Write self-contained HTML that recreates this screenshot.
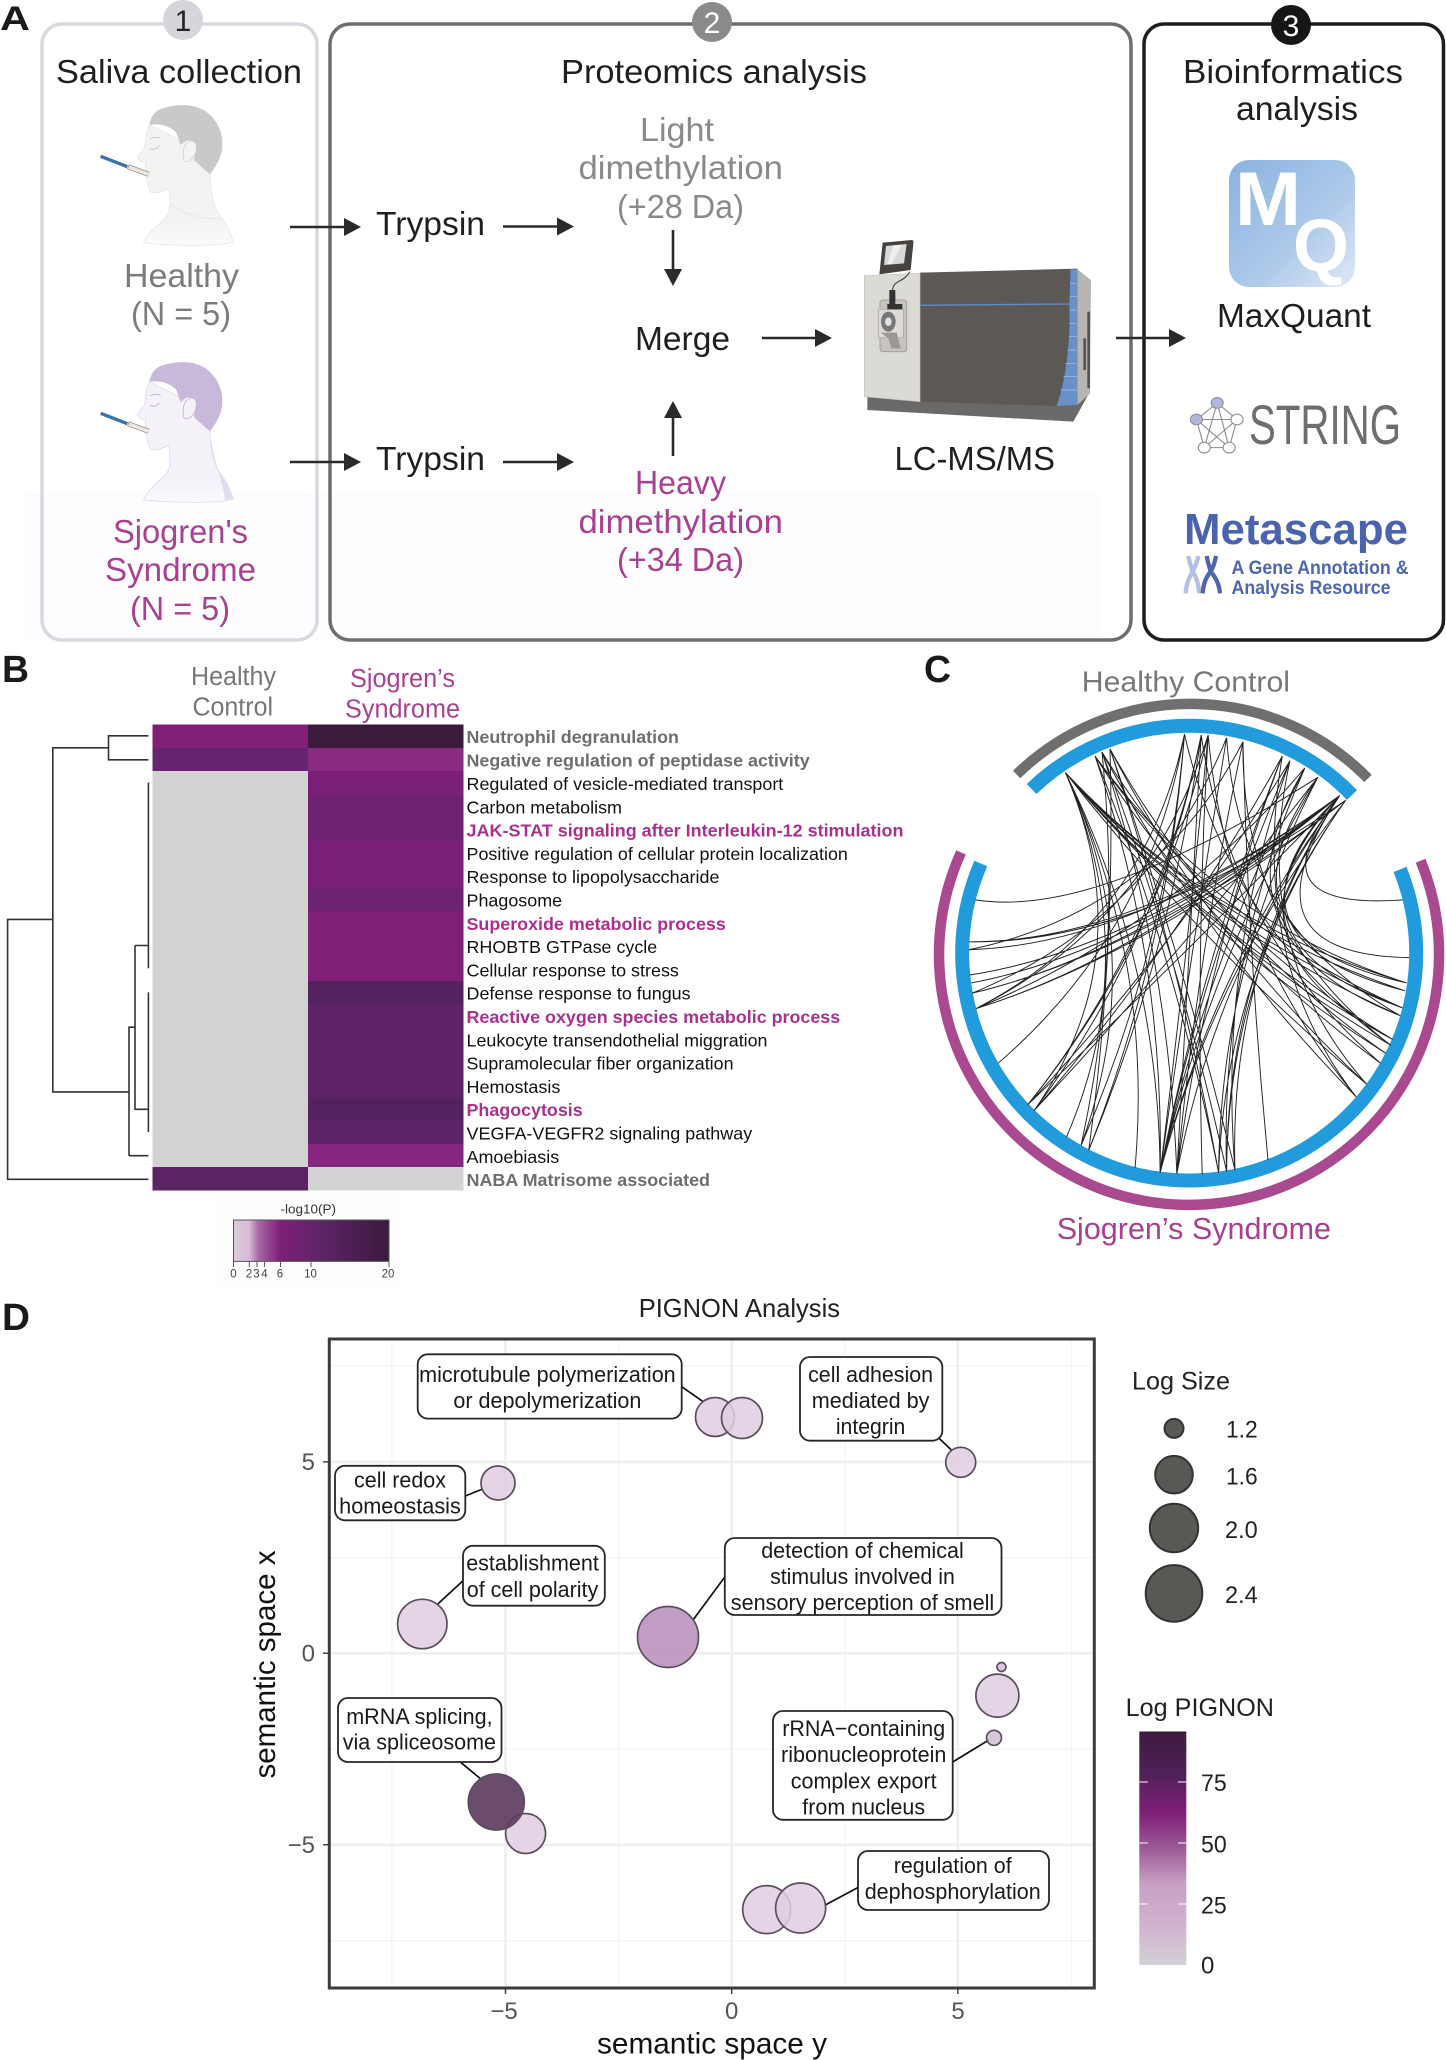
<!DOCTYPE html>
<html><head><meta charset="utf-8"><title>Figure</title>
<style>
html,body{margin:0;padding:0;background:#fff}
svg{display:block}
text{font-family:"Liberation Sans",sans-serif}
</style></head><body>
<svg xmlns="http://www.w3.org/2000/svg" width="1446" height="2060" viewBox="0 0 1446 2060">
<defs>
<linearGradient id="mq" x1="0" y1="0" x2="1" y2="1"><stop offset="0" stop-color="#8ab2e0"/><stop offset=".6" stop-color="#aecaea"/><stop offset="1" stop-color="#e0e9f6"/></linearGradient>
<linearGradient id="cb" x1="0" y1="0" x2="1" y2="0"><stop offset="0" stop-color="#dccbdd"/><stop offset=".1" stop-color="#d6bcd6"/><stop offset=".16" stop-color="#a868a4"/><stop offset=".3" stop-color="#7f1f78"/><stop offset=".55" stop-color="#5e2468"/><stop offset="1" stop-color="#3a1a3d"/></linearGradient>
<linearGradient id="lp" x1="0" y1="0" x2="0" y2="1"><stop offset="0" stop-color="#3e1a3f"/><stop offset=".18" stop-color="#4f2158"/><stop offset=".35" stop-color="#7f1f78"/><stop offset=".5" stop-color="#9a5a96"/><stop offset=".65" stop-color="#c79fc3"/><stop offset=".8" stop-color="#d0aece"/><stop offset="1" stop-color="#d3d0d6"/></linearGradient>
<linearGradient id="b1" x1="0" y1="0" x2="0" y2="1"><stop offset=".8" stop-color="#f3f3f2"/><stop offset="1" stop-color="#fbfbfb"/></linearGradient>
<linearGradient id="b2" x1="0" y1="0" x2="0" y2="1"><stop offset=".8" stop-color="#f4f1f9"/><stop offset="1" stop-color="#fbfafd"/></linearGradient>
</defs>

<!-- PANEL A -->
<rect x="23" y="493" width="1076" height="147" fill="#fdfcfe"/>
<rect x="42" y="24" width="275" height="616" rx="20" fill="none" stroke="#d6d9df" stroke-width="3.5"/>
<rect x="330" y="24" width="801" height="616" rx="20" fill="none" stroke="#6e6e6e" stroke-width="3.5"/>
<rect x="1144" y="24" width="299.5" height="616" rx="20" fill="none" stroke="#1d1d1d" stroke-width="3.5"/>
<circle cx="183" cy="20" r="20" fill="#d4d6dc"/><text x="183" y="31" font-size="30" text-anchor="middle" fill="#222">1</text>
<circle cx="712" cy="22" r="20" fill="#8a8a8a"/><text x="712" y="33" font-size="30" text-anchor="middle" fill="#fff">2</text>
<circle cx="1291" cy="25" r="20" fill="#161616"/><text x="1291" y="36" font-size="30" text-anchor="middle" fill="#fff">3</text>

<text x="0" y="30" font-size="34" font-weight="bold" fill="#1a1a1a" textLength="30" lengthAdjust="spacingAndGlyphs">A</text>
<text x="2" y="682" font-size="38" font-weight="bold" fill="#1a1a1a" textLength="27" lengthAdjust="spacingAndGlyphs">B</text>
<text x="924" y="682" font-size="38" font-weight="bold" fill="#1a1a1a" textLength="27" lengthAdjust="spacingAndGlyphs">C</text>
<text x="2" y="1330" font-size="38" font-weight="bold" fill="#1a1a1a" textLength="28" lengthAdjust="spacingAndGlyphs">D</text>

<g font-size="33" fill="#1f1f1f">
<text x="56" y="83" textLength="246" lengthAdjust="spacingAndGlyphs">Saliva collection</text>
<text x="561" y="83" textLength="306" lengthAdjust="spacingAndGlyphs">Proteomics analysis</text>
<text x="1183" y="83" textLength="220" lengthAdjust="spacingAndGlyphs">Bioinformatics</text>
<text x="1236" y="120" textLength="122" lengthAdjust="spacingAndGlyphs">analysis</text>
<text x="376" y="235" textLength="109" lengthAdjust="spacingAndGlyphs">Trypsin</text>
<text x="376" y="470" textLength="109" lengthAdjust="spacingAndGlyphs">Trypsin</text>
<text x="635" y="350" textLength="95" lengthAdjust="spacingAndGlyphs">Merge</text>
<text x="894.5" y="470" textLength="160.5" lengthAdjust="spacingAndGlyphs">LC-MS/MS</text>
<text x="1217" y="327" textLength="154" lengthAdjust="spacingAndGlyphs">MaxQuant</text>
</g>
<g font-size="33" fill="#8a8a8a">
<text x="640" y="141" textLength="74" lengthAdjust="spacingAndGlyphs">Light</text>
<text x="578.5" y="179" textLength="204.5" lengthAdjust="spacingAndGlyphs">dimethylation</text>
<text x="617" y="218" textLength="127" lengthAdjust="spacingAndGlyphs">(+28 Da)</text>
<text x="124" y="287" textLength="115" lengthAdjust="spacingAndGlyphs" fill="#7c7c7c">Healthy</text>
<text x="131" y="325" textLength="100" lengthAdjust="spacingAndGlyphs" fill="#7c7c7c">(N = 5)</text>
</g>
<g font-size="33" fill="#a8418f">
<text x="635" y="494" textLength="91" lengthAdjust="spacingAndGlyphs">Heavy</text>
<text x="578.5" y="533" textLength="204.5" lengthAdjust="spacingAndGlyphs">dimethylation</text>
<text x="617" y="571" textLength="127" lengthAdjust="spacingAndGlyphs">(+34 Da)</text>
<text x="113" y="543" textLength="135" lengthAdjust="spacingAndGlyphs">Sjogren's</text>
<text x="105" y="581" textLength="151" lengthAdjust="spacingAndGlyphs">Syndrome</text>
<text x="130" y="620" textLength="100" lengthAdjust="spacingAndGlyphs">(N = 5)</text>
</g>

<!-- arrows -->
<g stroke="#2a2a2a" stroke-width="2.6" fill="#2a2a2a">
<line x1="290" y1="227" x2="346" y2="227"/><polygon stroke="none" points="344,218 361,227 344,236"/>
<line x1="503" y1="226.5" x2="559" y2="226.5"/><polygon stroke="none" points="557,217.5 574,226.5 557,235.5"/>
<line x1="290" y1="462" x2="346" y2="462"/><polygon stroke="none" points="344,453 361,462 344,471"/>
<line x1="503" y1="462" x2="559" y2="462"/><polygon stroke="none" points="557,453 574,462 557,471"/>
<line x1="762" y1="338" x2="817" y2="338"/><polygon stroke="none" points="815,329 832,338 815,347"/>
<line x1="1116" y1="338" x2="1171" y2="338"/><polygon stroke="none" points="1169,329 1186,338 1169,347"/>
<line x1="673" y1="230" x2="673" y2="272"/><polygon stroke="none" points="664,269 682,269 673,286"/>
<line x1="673" y1="456" x2="673" y2="414"/><polygon stroke="none" points="664,418 682,418 673,401"/>
</g>

<!-- person 1 -->
<g transform="translate(90,95) scale(.33333)">
<path d="M178 90C170 110 165 130 165 155C158 170 146 178 143 187C146 198 158 202 168 205C164 218 165 228 172 240C168 250 170 262 175 272C176 282 178 290 184 293C200 296 222 288 236 280C240 300 242 320 238 345C234 365 215 380 198 395C182 410 170 425 160 442C180 450 390 458 430 440C420 410 405 380 385 355C372 335 362 300 360 238L300 150Z" fill="url(#b1)" stroke="#e2e2e2" stroke-width="2"/>
<path d="M178 90C184 62 195 45 225 38C270 25 330 25 365 65C392 95 402 130 395 170C388 200 372 222 360 238C345 225 330 212 312 195L320 150C310 135 290 130 272 150C264 130 262 118 258 112C235 90 205 85 178 90Z" fill="#c9c9c8"/>
<path d="M282 198C274 165 285 140 305 137C325 140 322 170 308 190C300 200 292 202 282 198Z" fill="#f3f3f2" stroke="#c8c8c8" stroke-width="2"/>
<path d="M180 160Q196 168 208 152M180 132Q196 124 212 130" stroke="#b5b5b5" stroke-width="2" fill="none"/>
<path d="M240 325C285 360 340 375 395 370" stroke="#e2e2e2" stroke-width="2" fill="none"/>
<line x1="32" y1="184" x2="112" y2="215" stroke="#3c72a6" stroke-width="10"/>
<line x1="114" y1="215" x2="176" y2="238" stroke="#8a837d" stroke-width="15"/>
<line x1="116" y1="216" x2="176" y2="238" stroke="#ece6df" stroke-width="11"/>
</g>
<!-- person 2 -->
<g transform="translate(90,352) scale(.33333)">
<path d="M178 90C170 110 165 130 165 155C158 170 146 178 143 187C146 198 158 202 168 205C164 218 165 228 172 240C168 250 170 262 175 272C176 282 178 290 184 293C200 296 222 288 236 280C240 300 242 320 238 345C234 365 215 380 198 395C182 410 170 425 160 442C180 450 390 458 430 440C420 410 405 380 385 355C372 335 362 300 360 238L300 150Z" fill="url(#b2)" stroke="#dcd2ea" stroke-width="2"/>
<path d="M360 238C362 300 372 335 385 355C405 380 420 410 430 440L405 445C400 390 370 330 360 238Z" fill="#e3dcef"/>
<path d="M178 90C184 62 195 45 225 38C270 25 330 25 365 65C392 95 402 130 395 170C388 200 372 222 360 238C345 225 330 212 312 195L320 150C310 135 290 130 272 150C264 130 262 118 258 112C235 90 205 85 178 90Z" fill="#c8b8d9"/>
<path d="M282 198C274 165 285 140 305 137C325 140 322 170 308 190C300 200 292 202 282 198Z" fill="#f4f1f9" stroke="#b7a8c8" stroke-width="2"/>
<path d="M180 160Q196 168 208 152M180 132Q196 124 212 130" stroke="#a898bb" stroke-width="2" fill="none"/>
<line x1="32" y1="184" x2="112" y2="215" stroke="#3c72a6" stroke-width="10"/>
<line x1="114" y1="215" x2="176" y2="238" stroke="#8a837d" stroke-width="15"/>
<line x1="116" y1="216" x2="176" y2="238" stroke="#ece6df" stroke-width="11"/>
</g>

<!-- LC-MS -->
<g transform="translate(860,230) scale(.33333)">
<polygon points="22,495 690,485 640,575 22,540" fill="#6a6968"/>
<polygon points="650,116 693,150 690,490 652,525" fill="#b8b5b0"/>
<rect x="682" y="245" width="8" height="230" fill="#55524f"/>
<rect x="670" y="325" width="8" height="95" fill="#55524f"/>
<polygon points="180,128 652,116 652,525 590,528 180,515" fill="#5c5856"/>
<path d="M632 118L652 118L652 525L590 528C620 440 632 330 628 222Z" fill="#6a90c8"/>
<path d="M630 160H652M630 200H652M630 240H652M628 280H652M626 320H652M622 360H652M616 400H652M610 440H652M602 480H652" stroke="#a9c2e4" stroke-width="2"/>
<polygon points="13,137 180,130 180,515 13,500" fill="#dcdad5" stroke="#c5c2bd" stroke-width="2"/>
<line x1="180" y1="226" x2="628" y2="222" stroke="#5f8ecb" stroke-width="4"/>
<path d="M68 38L155 30Q162 30 160 40L152 120L58 133Z" fill="#45423f"/>
<polygon points="78,48 140,42 132,100 72,105" fill="#d8d8d8"/>
<polygon points="100,46 125,44 95,102 82,103" fill="#efefef"/>
<path d="M150 125C130 160 95 150 98 185" stroke="#333" stroke-width="3" fill="none"/>
<rect x="60" y="210" width="80" height="155" rx="8" fill="#c7c4bf" stroke="#a5a29d" stroke-width="3"/>
<rect x="55" y="238" width="75" height="85" rx="4" fill="#dedbd6" stroke="#a5a29d" stroke-width="2"/>
<rect x="88" y="180" width="18" height="45" fill="#333"/>
<rect x="82" y="222" width="45" height="16" fill="#333"/>
<ellipse cx="85" cy="275" rx="22" ry="30" fill="#777"/>
<ellipse cx="85" cy="275" rx="10" ry="13" fill="#e0e0e0"/>
<polygon points="62,308 110,308 122,355 95,355 85,325" fill="#9b9893"/>
</g>

<!-- string icon -->
<g transform="translate(723,0) scale(.461,.4145)">
<g stroke="#8f8f8f" stroke-width="2.5" fill="none">
<polygon points="1072,972 1115,1012 1098,1080 1044,1080 1027,1012"/>
<polygon points="1072,972 1098,1080 1027,1012 1115,1012 1044,1080"/>
</g>
<g stroke="#8f8f8f" stroke-width="2.5">
<circle cx="1072" cy="972" r="13" fill="#b0b7de"/>
<circle cx="1027" cy="1012" r="13" fill="#b0b7de"/>
<circle cx="1115" cy="1012" r="13" fill="#fff"/>
<circle cx="1044" cy="1080" r="13" fill="#fff"/>
<circle cx="1098" cy="1080" r="13" fill="#fff"/>
</g>
</g>
<!-- dna icon -->
<g transform="translate(1170,510) scale(.33333)" fill="none" stroke-width="13">
<path d="M55 138C60 165 65 175 68 185C55 205 48 225 47 250M85 138C80 165 72 175 68 185C82 205 85 225 88 250" stroke="#b2bfe6"/>
<path d="M110 138C115 165 120 175 122 185C105 205 100 225 98 250M138 138C133 165 128 175 122 185C140 205 148 225 150 250" stroke="#4d66ae"/>
</g>
<rect x="1229" y="160" width="126" height="127" rx="20" fill="url(#mq)"/>
<text x="1235" y="225" font-size="76" font-weight="bold" fill="#fff" textLength="66" lengthAdjust="spacingAndGlyphs">M</text>
<text x="1293" y="271" font-size="74" font-weight="bold" fill="#fff" textLength="56" lengthAdjust="spacingAndGlyphs">Q</text>
<text x="1249" y="444" font-size="56" fill="#6e6e6e" textLength="152" lengthAdjust="spacingAndGlyphs">STRING</text>
<text x="1184" y="544" font-size="44" font-weight="bold" fill="#4a63ae" textLength="224" lengthAdjust="spacingAndGlyphs">Metascape</text>
<text x="1231.5" y="574" font-size="19" font-weight="bold" fill="#4d66ae" textLength="177" lengthAdjust="spacingAndGlyphs">A Gene Annotation &amp;</text>
<text x="1231.5" y="594" font-size="19" font-weight="bold" fill="#4d66ae" textLength="159" lengthAdjust="spacingAndGlyphs">Analysis Resource</text>

<!-- PANEL B -->
<text x="191" y="685" font-size="25.5" fill="#777" textLength="85" lengthAdjust="spacingAndGlyphs">Healthy</text>
<text x="192.5" y="715.5" font-size="25.5" fill="#777" textLength="80.5" lengthAdjust="spacingAndGlyphs">Control</text>
<text x="350" y="687" font-size="25.5" fill="#a8418f" textLength="105" lengthAdjust="spacingAndGlyphs">Sjogren’s</text>
<text x="345" y="717.5" font-size="25.5" fill="#a8418f" textLength="115" lengthAdjust="spacingAndGlyphs">Syndrome</text>

<g shape-rendering="crispEdges">
<rect x="152.5" y="724.6" width="155.5" height="23.4" fill="#7f1f78"/>
<rect x="152.5" y="748" width="155.5" height="23.3" fill="#66246e"/>
<rect x="152.5" y="771.2" width="155.5" height="396" fill="#d2d2d2"/>
<rect x="152.5" y="1167.2" width="155.5" height="23.3" fill="#5c2364"/>
<rect x="308" y="724.6" width="155.5" height="23.4" fill="#3a1a3d"/>
<rect x="308" y="748" width="155.5" height="23.4" fill="#8a2a80"/>
<rect x="308" y="771.2" width="155.5" height="23.4" fill="#7b1f78"/>
<rect x="308" y="794.5" width="155.5" height="23.4" fill="#702272"/>
<rect x="308" y="817.8" width="155.5" height="23.4" fill="#702272"/>
<rect x="308" y="841.1" width="155.5" height="46.7" fill="#7c1f78"/>
<rect x="308" y="887.7" width="155.5" height="23.4" fill="#6d2274"/>
<rect x="308" y="911" width="155.5" height="70" fill="#7f1f78"/>
<rect x="308" y="980.9" width="155.5" height="23.4" fill="#552260"/>
<rect x="308" y="1004.2" width="155.5" height="93.3" fill="#5e2366"/>
<rect x="308" y="1097.4" width="155.5" height="23.4" fill="#552260"/>
<rect x="308" y="1120.7" width="155.5" height="23.4" fill="#5c2366"/>
<rect x="308" y="1144" width="155.5" height="23.4" fill="#872680"/>
<rect x="308" y="1167.2" width="155.5" height="23.3" fill="#d3d3d3"/>
</g>
<g font-size="17.5">
<text x="466.5" y="743.2" font-weight="bold" fill="#6e6e6e" textLength="212.4" lengthAdjust="spacingAndGlyphs">Neutrophil degranulation</text>
<text x="466.5" y="766.5" font-weight="bold" fill="#6e6e6e" textLength="343.2" lengthAdjust="spacingAndGlyphs">Negative regulation of peptidase activity</text>
<text x="466.5" y="790" fill="#111" textLength="316.8" lengthAdjust="spacingAndGlyphs">Regulated of vesicle-mediated transport</text>
<text x="466.5" y="813.3" fill="#111" textLength="155.5" lengthAdjust="spacingAndGlyphs">Carbon metabolism</text>
<text x="466.5" y="836.6" font-weight="bold" fill="#a8318f" textLength="437" lengthAdjust="spacingAndGlyphs">JAK-STAT signaling after Interleukin-12 stimulation</text>
<text x="466.5" y="859.9" fill="#111" textLength="381.4" lengthAdjust="spacingAndGlyphs">Positive regulation of cellular protein localization</text>
<text x="466.5" y="883.2" fill="#111" textLength="252.9" lengthAdjust="spacingAndGlyphs">Response to lipopolysaccharide</text>
<text x="466.5" y="906.5" fill="#111" textLength="95.6" lengthAdjust="spacingAndGlyphs">Phagosome</text>
<text x="466.5" y="929.8" font-weight="bold" fill="#a8318f" textLength="259.3" lengthAdjust="spacingAndGlyphs">Superoxide metabolic process</text>
<text x="466.5" y="953.1" fill="#111" textLength="190.7" lengthAdjust="spacingAndGlyphs">RHOBTB GTPase cycle</text>
<text x="466.5" y="976.4" fill="#111" textLength="212.4" lengthAdjust="spacingAndGlyphs">Cellular response to stress</text>
<text x="466.5" y="999.7" fill="#111" textLength="224.1" lengthAdjust="spacingAndGlyphs">Defense response to fungus</text>
<text x="466.5" y="1023" font-weight="bold" fill="#a8318f" textLength="373.7" lengthAdjust="spacingAndGlyphs">Reactive oxygen species metabolic process</text>
<text x="466.5" y="1046.3" fill="#111" textLength="301" lengthAdjust="spacingAndGlyphs">Leukocyte transendothelial miggration</text>
<text x="466.5" y="1069.6" fill="#111" textLength="267" lengthAdjust="spacingAndGlyphs">Supramolecular fiber organization</text>
<text x="466.5" y="1092.9" fill="#111" textLength="93.9" lengthAdjust="spacingAndGlyphs">Hemostasis</text>
<text x="466.5" y="1116.2" font-weight="bold" fill="#a8318f" textLength="116.2" lengthAdjust="spacingAndGlyphs">Phagocytosis</text>
<text x="466.5" y="1139.5" fill="#111" textLength="285.7" lengthAdjust="spacingAndGlyphs">VEGFA-VEGFR2 signaling pathway</text>
<text x="466.5" y="1162.8" fill="#111" textLength="92.7" lengthAdjust="spacingAndGlyphs">Amoebiasis</text>
<text x="466.5" y="1186.1" font-weight="bold" fill="#6e6e6e" textLength="243.5" lengthAdjust="spacingAndGlyphs">NABA Matrisome associated</text>
</g>
<g fill="none" stroke="#333" stroke-width="1.6">
<path d="M148.4 735.8H108.5V759.8H148.4M108.5 747.8H52.8V1091.9H129M52.8 919.4H7.6V1179.3H148.4M129 1155.7H148.4M129 1155.7V1027.2H135M135 945.5V1109.3H148.4M135 945.5H148.4M148.4 782.6V968.3M148.4 992.4V1132"/>
</g>
<rect x="218" y="1193" width="184" height="95" fill="#fdfdfd"/>
<text x="280.5" y="1213.7" font-size="12.5" fill="#333" textLength="55.5" lengthAdjust="spacingAndGlyphs">-log10(P)</text>
<rect x="233.5" y="1220" width="155.5" height="41.4" fill="url(#cb)" stroke="#555" stroke-width="1"/>
<path d="M233.5 1261v6M249.3 1261v6M257 1261v6M264.6 1261v6M280.5 1261v6M311 1261v6M389 1261v6" stroke="#555" stroke-width="1"/>
<g font-size="11.5" fill="#444" text-anchor="middle">
<text x="233.5" y="1277.5">0</text><text x="249" y="1277.5">2</text><text x="256.5" y="1277.5">3</text><text x="264.5" y="1277.5">4</text><text x="280" y="1277.5">6</text><text x="310.5" y="1277.5">10</text><text x="388" y="1277.5">20</text>
</g>

<!-- PANEL C -->
<text x="1081.8" y="691.5" font-size="29" fill="#777" textLength="208.2" lengthAdjust="spacingAndGlyphs">Healthy Control</text>
<text x="1056.7" y="1239" font-size="31" fill="#a8418f" textLength="274.3" lengthAdjust="spacingAndGlyphs">Sjogren’s Syndrome</text>
<path d="M1016.6 774.5A249 249 0 0 1 1368 778.5" fill="none" stroke="#6f6f6f" stroke-width="10.5"/>
<path d="M1031.6 789A227 227 0 0 1 1352 795" fill="none" stroke="#229bdc" stroke-width="14"/>
<path d="M961 852.4A250 250 0 1 0 1420.6 860.7" fill="none" stroke="#a94a91" stroke-width="10.5"/>
<path d="M980.8 863.5A227 227 0 1 0 1400 869.4" fill="none" stroke="#229bdc" stroke-width="14"/>
<g transform="translate(900,650) scale(.3482,.3954)">
<path fill="none" stroke="#222" stroke-width=".95" vector-effect="non-scaling-stroke" d="
M475 310Q883 696 1450 862M475 310Q884 692 1455 842M475 310Q882 705 1443 905M475 310Q881 709 1437 925M475 310Q876 721 1415 985M475 310Q875 724 1410 1000M475 310Q872 728 1395 1020M475 310Q861 743 1340 1098M475 310Q704 770 478 1232M475 310Q720 770 520 1253M475 310Q700 770 385 1165M475 310Q728 786 675 1310M475 310Q743 788 747 1322
M560 268Q901 684 1455 842M560 268Q899 696 1443 905M560 268Q886 725 1380 1045M560 268Q760 780 747 1322M560 268Q793 780 915 1322
M580 258Q897 711 1415 985M580 258Q876 739 1310 1130M580 258Q773 779 795 1325M580 258Q802 777 938 1319M580 258Q640 770 520 1253
M603 250Q898 716 1395 1020M603 250Q887 732 1340 1098M603 250Q811 775 962 1315M603 250Q802 776 915 1322M603 250Q620 770 542 1265
M817 213Q705 686 218 907M817 213Q718 713 282 1045M817 213Q766 755 520 1253M817 213Q770 758 542 1265M817 213Q944 704 1410 1000
M865 215Q744 735 367 1150M865 215Q748 738 385 1165M865 215Q779 758 542 1265M865 215Q830 770 795 1325M865 215Q947 714 1380 1045
M885 215Q719 686 218 907M885 215Q748 735 367 1150M885 215Q849 770 868 1326M885 215Q825 769 747 1322M885 215Q937 731 1310 1130
M938 222Q727 680 207 868M938 222Q835 771 747 1322M938 222Q973 692 1437 925
M985 232Q735 660 198 758M985 232Q854 773 795 1325M985 232Q977 709 1410 1000M985 232Q1000 770 1057 1290
M1098 268Q867 780 747 1322M1098 268Q876 781 795 1325M1098 268Q795 749 385 1165M1098 268Q1000 780 1310 1130
M1120 280Q871 782 747 1322M1120 280Q914 781 962 1315M1120 280Q795 748 367 1150M1120 280Q1000 760 1340 1098
M1163 298Q880 786 747 1322M1163 298Q918 785 938 1319M1163 298Q774 703 218 907M1163 298Q870 730 1437 925
M1200 322Q888 791 747 1322M1200 322Q815 759 385 1165M1200 322Q921 791 915 1322M1200 322Q560 680 217 632M1200 322Q870 727 1455 842
M1263 368Q680 740 198 738M1263 368Q680 745 198 758M1263 368Q690 755 200 822M1263 368Q690 760 205 842M1263 368Q700 765 207 868M1263 368Q700 775 218 907M1263 368Q900 800 747 1322M1263 368Q938 799 938 1319M1263 368Q943 799 962 1315M1263 368Q909 800 795 1325M1263 368Q1000 660 1443 632M1263 368Q960 770 1462 778M1263 368Q824 766 367 1150M1263 368Q870 727 1450 862M1263 368Q870 730 1443 905M1263 368Q873 735 1415 985
M1280 380Q680 745 198 738M1280 380Q700 775 218 907M1280 380Q700 765 207 868M1280 380Q941 802 938 1319M1280 380Q937 802 915 1322M1280 380Q904 802 747 1322"/>
</g>

<!-- PANEL D -->
<text x="638.7" y="1317" font-size="26" fill="#222" textLength="201.3" lengthAdjust="spacingAndGlyphs">PIGNON Analysis</text>
<g stroke="#f3f3f3" stroke-width="1.3">
<path d="M391.9 1339V1988M618.6 1339V1988M844.8 1339V1988M1071.5 1339V1988M329 1366H1094M329 1557.6H1094M329 1749H1094M329 1940.6H1094"/>
</g>
<g stroke="#efefef" stroke-width="2.6">
<path d="M505.5 1339V1988M731.7 1339V1988M957.8 1339V1988M329 1461.9H1094M329 1653.3H1094M329 1844.8H1094"/>
</g>
<rect x="329.3" y="1339" width="765" height="649" fill="none" stroke="#3f3b3a" stroke-width="3"/>
<path d="M505.5 1989V1994M731.7 1989V1994M957.8 1989V1994M323 1461.9H328M323 1653.3H328M323 1844.8H328" stroke="#444" stroke-width="1.5"/>
<g font-size="24" fill="#555">
<text x="315" y="1470" text-anchor="end">5</text>
<text x="315" y="1661.5" text-anchor="end">0</text>
<text x="315" y="1853" text-anchor="end">−5</text>
<text x="504" y="2019" text-anchor="middle">−5</text>
<text x="731.7" y="2019" text-anchor="middle">0</text>
<text x="958" y="2019" text-anchor="middle">5</text>
</g>
<text x="597" y="2053.5" font-size="30" fill="#111" textLength="230" lengthAdjust="spacingAndGlyphs">semantic space y</text>
<text transform="translate(275,1778.5) rotate(-90)" x="0" y="0" font-size="30" fill="#111" textLength="228" lengthAdjust="spacingAndGlyphs">semantic space x</text>

<!-- connectors -->
<g stroke="#111" stroke-width="1.7">
<line x1="681.7" y1="1386.7" x2="703.6" y2="1402"/>
<line x1="937" y1="1436.3" x2="952" y2="1450.6"/>
<line x1="465.3" y1="1496" x2="482.6" y2="1489"/>
<line x1="463" y1="1580.7" x2="437.8" y2="1604"/>
<line x1="724.8" y1="1577" x2="693" y2="1620"/>
<line x1="460.7" y1="1762.3" x2="481.4" y2="1779.5"/>
<line x1="952.7" y1="1762" x2="988.8" y2="1740"/>
<line x1="858" y1="1887.5" x2="825.8" y2="1904.7"/>
</g>
<!-- bubbles -->
<g stroke="#5a4e5c" stroke-width="1.7" fill="#dfcde1" fill-opacity=".85">
<circle cx="715" cy="1417" r="19.5"/>
<circle cx="742" cy="1418" r="20.5"/>
<circle cx="960.7" cy="1462.3" r="15"/>
<circle cx="498" cy="1483" r="17"/>
<circle cx="422.3" cy="1624" r="24.7"/>
<circle cx="668" cy="1637" r="30.5" fill="#b68cba"/>
<circle cx="525.6" cy="1833.5" r="20"/>
<circle cx="496.3" cy="1802" r="28" fill="#5e3d60" fill-opacity=".92"/>
<circle cx="1001.5" cy="1667" r="4.5" fill="#d3bcd6"/>
<circle cx="997.4" cy="1695.6" r="21.5"/>
<circle cx="994" cy="1737.8" r="7.5" fill="#d3bcd6"/>
<circle cx="766.7" cy="1909.6" r="24"/>
<circle cx="800.6" cy="1908" r="25"/>
</g>
<!-- label boxes -->
<g fill="#fff" stroke="#2a2526" stroke-width="1.8">
<rect x="417.7" y="1354.3" width="264" height="64.3" rx="10"/>
<rect x="800" y="1357" width="142.3" height="83.7" rx="10"/>
<rect x="335" y="1465.8" width="130.3" height="54.5" rx="10"/>
<rect x="463" y="1545.8" width="141.8" height="59.9" rx="10"/>
<rect x="724.8" y="1538" width="276.7" height="77" rx="10"/>
<rect x="338" y="1698" width="163.5" height="64" rx="10"/>
<rect x="773" y="1711" width="179.7" height="108.8" rx="10"/>
<rect x="858" y="1851" width="191" height="59" rx="10"/>
</g>
<g font-size="22.5" fill="#1a1a1a" text-anchor="middle">
<text x="547.4" y="1381.8" textLength="256.6" lengthAdjust="spacingAndGlyphs">microtubule polymerization</text>
<text x="547.4" y="1407.8" textLength="188" lengthAdjust="spacingAndGlyphs">or depolymerization</text>
<text x="870.6" y="1381.8" textLength="125" lengthAdjust="spacingAndGlyphs">cell adhesion</text>
<text x="870.6" y="1407.8" textLength="117.7" lengthAdjust="spacingAndGlyphs">mediated by</text>
<text x="870.6" y="1433.9" textLength="69.5" lengthAdjust="spacingAndGlyphs">integrin</text>
<text x="400" y="1487.4" textLength="92" lengthAdjust="spacingAndGlyphs">cell redox</text>
<text x="400" y="1513.4" textLength="121.7" lengthAdjust="spacingAndGlyphs">homeostasis</text>
<text x="532.5" y="1570.4" textLength="132.6" lengthAdjust="spacingAndGlyphs">establishment</text>
<text x="532.5" y="1596.9" textLength="131.5" lengthAdjust="spacingAndGlyphs">of cell polarity</text>
<text x="862.5" y="1558" textLength="202.6" lengthAdjust="spacingAndGlyphs">detection of chemical</text>
<text x="862.5" y="1584" textLength="184.8" lengthAdjust="spacingAndGlyphs">stimulus involved in</text>
<text x="862.5" y="1610" textLength="263.5" lengthAdjust="spacingAndGlyphs">sensory perception of smell</text>
<text x="419.4" y="1724" textLength="146.4" lengthAdjust="spacingAndGlyphs">mRNA splicing,</text>
<text x="419.4" y="1749.6" textLength="153.3" lengthAdjust="spacingAndGlyphs">via spliceosome</text>
<text x="863.7" y="1735.8" textLength="163" lengthAdjust="spacingAndGlyphs">rRNA−containing</text>
<text x="863.7" y="1761.9" textLength="165.3" lengthAdjust="spacingAndGlyphs">ribonucleoprotein</text>
<text x="863.7" y="1788.4" textLength="145.8" lengthAdjust="spacingAndGlyphs">complex export</text>
<text x="863.7" y="1814.4" textLength="122.8" lengthAdjust="spacingAndGlyphs">from nucleus</text>
<text x="952.7" y="1872.8" textLength="118" lengthAdjust="spacingAndGlyphs">regulation of</text>
<text x="952.7" y="1898.8" textLength="176" lengthAdjust="spacingAndGlyphs">dephosphorylation</text>
</g>

<!-- legends -->
<text x="1132" y="1389.7" font-size="25" fill="#222" textLength="98" lengthAdjust="spacingAndGlyphs">Log Size</text>
<g fill="#5a5855" stroke="#333" stroke-width="2">
<circle cx="1174" cy="1428.4" r="9.5"/>
<circle cx="1174" cy="1474.7" r="18.8"/>
<circle cx="1174" cy="1528" r="24.2"/>
<circle cx="1174" cy="1593.4" r="28.3"/>
</g>
<g font-size="24" fill="#222">
<text x="1226" y="1437.7" textLength="31.7" lengthAdjust="spacingAndGlyphs">1.2</text>
<text x="1226" y="1484.4" textLength="31.7" lengthAdjust="spacingAndGlyphs">1.6</text>
<text x="1225" y="1538" textLength="32.7" lengthAdjust="spacingAndGlyphs">2.0</text>
<text x="1225" y="1603" textLength="32.7" lengthAdjust="spacingAndGlyphs">2.4</text>
<text x="1201" y="1791" textLength="25.7" lengthAdjust="spacingAndGlyphs">75</text>
<text x="1201" y="1852.4" textLength="25.7" lengthAdjust="spacingAndGlyphs">50</text>
<text x="1201" y="1913.4" textLength="25.7" lengthAdjust="spacingAndGlyphs">25</text>
<text x="1201" y="1973.6">0</text>
</g>
<text x="1125.7" y="1716" font-size="25" fill="#222" textLength="148.3" lengthAdjust="spacingAndGlyphs">Log PIGNON</text>
<rect x="1139.3" y="1731.5" width="47" height="233.5" fill="url(#lp)"/>
<path d="M1139.3 1782h8.5M1177.8 1782h8.5M1139.3 1843h8.5M1177.8 1843h8.5M1139.3 1904h8.5M1177.8 1904h8.5" stroke="#fff" stroke-width="1"/>
</svg>
</body></html>
